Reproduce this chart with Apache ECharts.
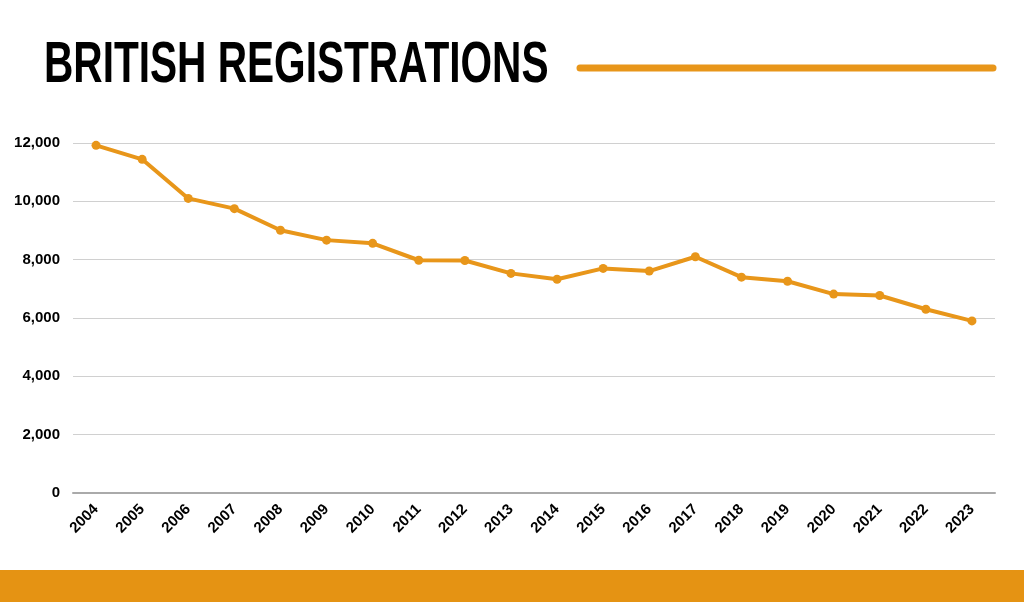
<!DOCTYPE html>
<html><head><meta charset="utf-8">
<script src="https://cdn.jsdelivr.net/npm/echarts@6/dist/echarts.min.js"></script>
<style>html,body{margin:0;padding:0;background:#fff}#c{width:1024px;height:602px}</style>
</head><body><div id="c"></div>
<script>
const years = ['2004','2005','2006','2007','2008','2009','2010','2011','2012','2013','2014','2015','2016','2017','2018','2019','2020','2021','2022','2023'];
const registrations = [11920,11440,10100,9750,9010,8670,8560,7980,7970,7530,7330,7700,7610,8100,7400,7260,6820,6770,6300,5900];
const yTicks = [0,2000,4000,6000,8000,10000,12000];
const titleText = 'BRITISH REGISTRATIONS';
const orange = '#E8961A';
const font = '"Liberation Sans",sans-serif';

const chart = echarts.init(document.getElementById('c'));
chart.setOption({
  backgroundColor:'#fff',
  animation:false,
  grid:{left:73,right:29,top:143,bottom:109},
  xAxis:{type:'category',data:years,boundaryGap:true,
    axisLine:{lineStyle:{color:'#aaa',width:2}},axisTick:{show:false},
    axisLabel:{rotate:45,margin:14,fontFamily:font,fontWeight:'bold',fontSize:15,color:'#000',interval:0}},
  yAxis:{type:'value',min:0,max:12000,interval:2000,
    axisLine:{show:false},axisTick:{show:false},
    splitLine:{lineStyle:{color:'#d0d0d0',width:1}},
    axisLabel:{margin:13,fontFamily:font,fontWeight:'bold',fontSize:15,color:'#000',
      formatter:v=>yTicks.includes(v)?v.toLocaleString('en-US'):''}},
  series:[{type:'line',data:registrations,symbol:'circle',symbolSize:9,
    lineStyle:{color:orange,width:4},itemStyle:{color:orange}}],
  graphic:[
    {type:'text',x:44,y:66,scaleX:0.7,scaleY:1,
      style:{text:titleText,fontFamily:font,fontWeight:'bold',fontSize:58,fill:'#000',
        textAlign:'left',textVerticalAlign:'middle',verticalAlign:'middle'}},
    {type:'line',shape:{x1:580,y1:68,x2:993,y2:68},style:{stroke:orange,lineWidth:7,lineCap:'round'}},
    {type:'rect',shape:{x:0,y:570,width:1024,height:32},style:{fill:'#E59313'}}
  ]
});
</script></body></html>
